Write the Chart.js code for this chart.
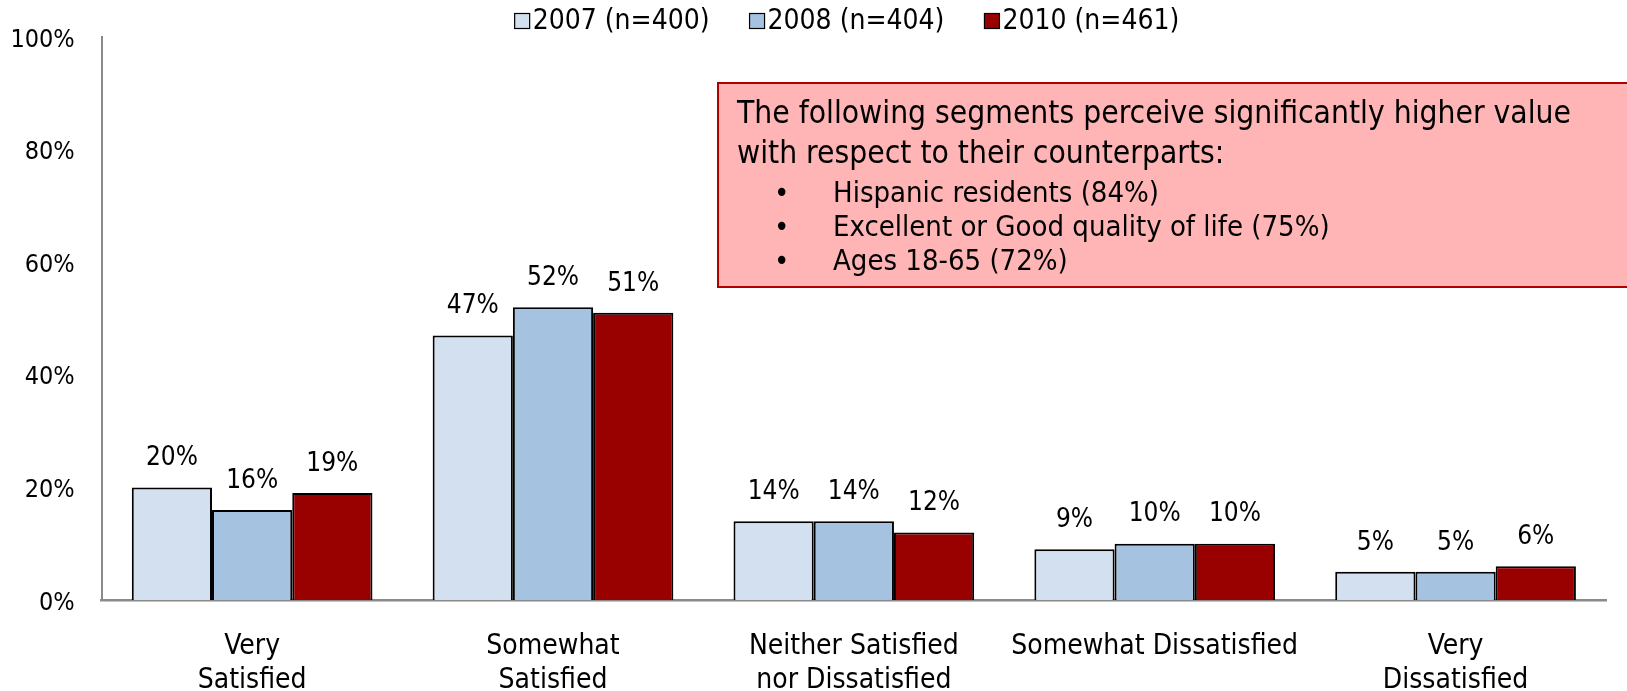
<!DOCTYPE html>
<html>
<head>
<meta charset="utf-8">
<script src="https://cdn.jsdelivr.net/npm/chart.js@4.4.1/dist/chart.umd.min.js"></script>
<style>
  html, body { margin: 0; padding: 0; background: #fff; }
</style>
</head>
<body>
<canvas id="myChart" width="1627" height="691"></canvas>
<script>
// данные графика
const categories = [['Very', 'Satisfied'], ['Somewhat', 'Satisfied'], ['Neither Satisfied', 'nor Dissatisfied'], 'Somewhat Dissatisfied', ['Very', 'Dissatisfied']];
const seriesNames = ['2007 (n=400)', '2008 (n=404)', '2010 (n=461)'];
const values2007 = [20, 47, 14, 9, 5];
const values2008 = [16, 52, 14, 10, 5];
const values2010 = [19, 51, 12, 10, 6];
const yTicks = [0, 20, 40, 60, 80, 100];
const noteLines = ['The following segments perceive significantly higher value', 'with respect to their counterparts:'];
const noteBullets = ['Hispanic residents (84%)', 'Excellent or Good quality of life (75%)', 'Ages 18-65 (72%)'];

const FONT = '"DejaVu Sans Condensed", "Liberation Sans Narrow", "DejaVu Sans", sans-serif';

// легенда сверху
const topLegend = {
    id: 'topLegend',
    afterDraw(chart) {
        const ctx = chart.ctx;
        ctx.save();
        ctx.font = '28px ' + FONT;
        ctx.textBaseline = 'middle';
        const box = 15, gap = 3, spacing = 40;
        const items = chart.data.datasets.map(ds => ({
            text: ds.label,
            color: ds.backgroundColor,
            w: box + gap + ctx.measureText(ds.label).width
        }));
        const total = items.reduce((s, it) => s + it.w, 0) + spacing * (items.length - 1);
        let x = 847 - total / 2;
        const y = 21;
        items.forEach(it => {
            ctx.fillStyle = it.color;
            ctx.fillRect(x, y - box / 2, box, box);
            ctx.strokeStyle = '#000';
            ctx.lineWidth = 1.2;
            ctx.strokeRect(x, y - box / 2, box, box);
            ctx.fillStyle = '#000';
            ctx.fillText(it.text, x + box + gap, y + 1);
            x += it.w + spacing;
        });
        ctx.restore();
    }
};

// подписи значений над столбцами
const valueLabels = {
    id: 'valueLabels',
    afterDatasetsDraw(chart) {
        const ctx = chart.ctx;
        ctx.save();
        ctx.font = '26px ' + FONT;
        ctx.fillStyle = '#000';
        ctx.textAlign = 'center';
        ctx.textBaseline = 'middle';
        chart.data.datasets.forEach((ds, i) => {
            chart.getDatasetMeta(i).data.forEach((bar, j) => {
                ctx.fillText(ds.data[j] + '%', bar.x, bar.y - 29);
            });
        });
        ctx.restore();
    }
};

// розовая плашка с комментарием
const noteBox = {
    id: 'noteBox',
    afterDraw(chart) {
        const ctx = chart.ctx;
        ctx.save();
        ctx.fillStyle = '#FFB5B5';
        ctx.fillRect(718, 83, 920, 204);
        ctx.strokeStyle = '#B00000';
        ctx.lineWidth = 2;
        ctx.strokeRect(718, 83, 920, 204);
        ctx.fillStyle = '#000';
        ctx.textBaseline = 'middle';
        ctx.font = '31.5px ' + FONT;
        noteLines.forEach((t, i) => ctx.fillText(t, 737, 115 + i * 39.5));
        ctx.font = '29px ' + FONT;
        noteBullets.forEach((t, i) => {
            const yy = 194 + i * 34;
            ctx.fillText('\u2022', 774, yy);
            ctx.fillText(t, 833, yy);
        });
        ctx.restore();
    }
};

const plot = document.getElementById('myChart').getContext('2d');
const myChart = new Chart(plot, {
    type: 'bar',
    data: {
        labels: categories,
        datasets: [
            { label: seriesNames[0], data: values2007, backgroundColor: '#D2E0F0' },
            { label: seriesNames[1], data: values2008, backgroundColor: '#A5C3E1' },
            { label: seriesNames[2], data: values2010, backgroundColor: '#990000' }
        ].map(ds => Object.assign(ds, {
            borderColor: '#000',
            borderWidth: { top: 2, left: 2, right: 2, bottom: 0 },
            borderSkipped: false,
            categoryPercentage: 0.8,
            barPercentage: 1.0
        }))
    },
    options: {
        responsive: false,
        animation: false,
        layout: { padding: { top: 37, right: 21, left: 0, bottom: 0 } },
        plugins: {
            legend: { display: false },
            tooltip: { enabled: false }
        },
        scales: {
            x: {
                grid: { display: false, drawTicks: false },
                border: { display: true, color: '#8A8A8A', width: 2.5 },
                ticks: {
                    color: '#000',
                    font: { family: FONT, size: 28, lineHeight: 1.2 },
                    padding: 30,
                    maxRotation: 0,
                    autoSkip: false
                },
                afterFit(scale) { scale.height = 91; }
            },
            y: {
                min: 0,
                max: 100,
                grid: { display: false, drawTicks: false },
                border: { display: true, color: '#8A8A8A', width: 2 },
                afterBuildTicks(scale) { scale.ticks = yTicks.map(v => ({ value: v })); },
                ticks: {
                    color: '#000',
                    font: { family: FONT, size: 25 },
                    padding: 27,
                    labelOffset: 3,
                    callback: v => v + '%'
                },
                afterFit(scale) {
                    scale.width = 101.7;
                    // отступ подписей не должен сдвигать верх графика
                    scale.paddingTop = 10;
                    scale.paddingBottom = 10;
                }
            }
        }
    },
    plugins: [topLegend, valueLabels, noteBox]
});
</script>
</body>
</html>
